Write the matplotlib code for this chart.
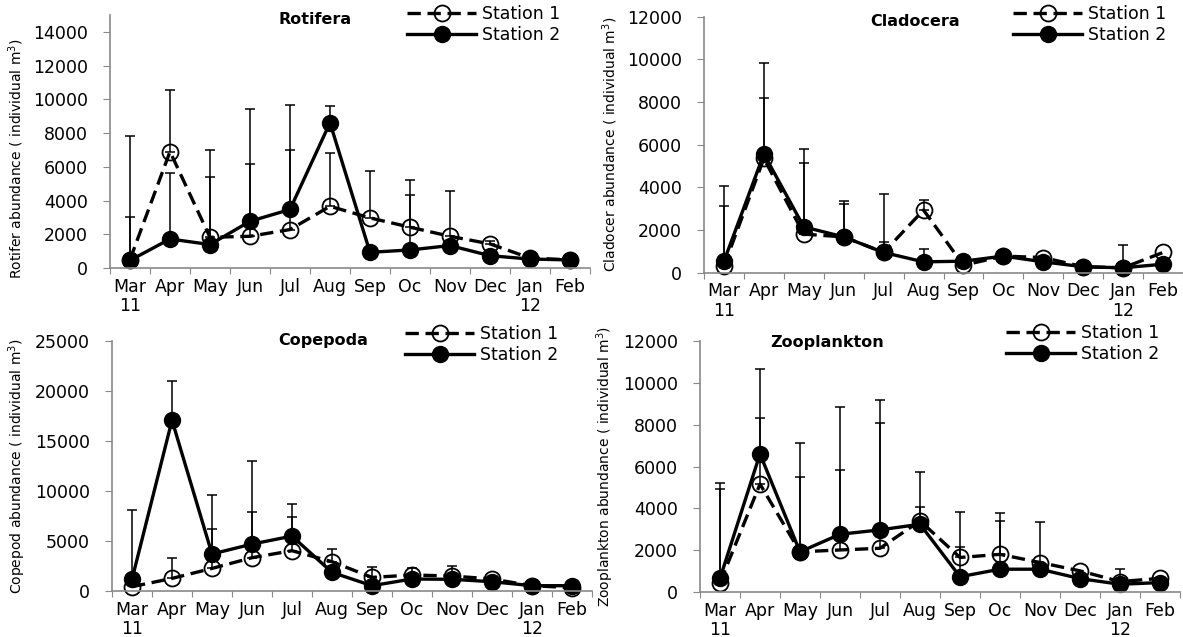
import numpy as np
import matplotlib.pyplot as plt

months = ['Mar\n11', 'Apr', 'May', 'Jun', 'Jul', 'Aug', 'Sep', 'Oc', 'Nov', 'Dec', 'Jan\n12', 'Feb']

# Rotifera
rot_st1 = [500, 6900, 1820, 1880, 2280, 3660, 2970, 2420, 1880, 1430, 590, 480]
rot_st1_sd = [2500, 3640, 3570, 4260, 4730, 3150, 2810, 2770, 2670, 190, 0, 0]
rot_st2 = [450, 1720, 1390, 2770, 3470, 8610, 930, 1070, 1330, 730, 530, 480]
rot_st2_sd = [7350, 3900, 5580, 6660, 6210, 970, 0, 3230, 0, 0, 0, 0]

# Cladocera
cla_st1 = [300, 5350, 1800, 1670, 940, 2930, 340, 770, 700, 270, 220, 940]
cla_st1_sd = [2810, 2850, 3320, 1540, 470, 470, 0, 0, 0, 0, 0, 0]
cla_st2 = [530, 5560, 2140, 1670, 940, 500, 530, 770, 500, 270, 220, 390]
cla_st2_sd = [3520, 4280, 3650, 1690, 2740, 580, 0, 0, 0, 0, 1090, 0]

# Copepoda
cop_st1 = [430, 1260, 2260, 3330, 4030, 2930, 1360, 1600, 1500, 1200, 530, 330]
cop_st1_sd = [0, 2070, 3900, 4590, 3330, 1300, 1070, 660, 1000, 0, 0, 0]
cop_st2 = [1170, 17080, 3700, 4690, 5490, 1860, 530, 1200, 1170, 930, 530, 530]
cop_st2_sd = [6920, 3920, 5950, 8290, 3200, 0, 0, 0, 0, 0, 0, 0]

# Zooplankton
zoo_st1 = [450, 5160, 1920, 2010, 2090, 3400, 1650, 1800, 1410, 1010, 500, 650]
zoo_st1_sd = [4470, 3150, 3560, 3840, 5980, 640, 2180, 1970, 1960, 0, 590, 0]
zoo_st2 = [650, 6600, 1920, 2760, 2970, 3240, 730, 1090, 1090, 640, 370, 450]
zoo_st2_sd = [4560, 4070, 5190, 6070, 6230, 2480, 1430, 2310, 0, 0, 0, 0]

W, H = 1183, 637
plt.rcParams['font.family'] = ['DejaVu Sans']
fig = plt.figure(figsize=(W / 100, H / 100), dpi=100)

GREY = '#898989'


def draw_panel(rect, title, ylab, s1, s1_sd, s2, s2_sd, ymax, ytop, ystep, title_xy, leg_xy,
               ylab_y=0.5):
    ax = fig.add_axes(rect)
    x = np.arange(len(months))
    s1, s2 = np.array(s1, float), np.array(s2, float)
    s1_sd, s2_sd = np.array(s1_sd, float), np.array(s2_sd, float)

    # upper-only error bars, skip the ones that are not visible
    for vals, sd in [(s1, s1_sd), (s2, s2_sd)]:
        m = sd > 0
        ax.errorbar(x[m], vals[m], yerr=[np.zeros(m.sum()), sd[m]], fmt='none',
                    ecolor='black', elinewidth=1.1, capsize=3.6, capthick=1.1, clip_on=False)

    ax.plot(x, s1, linestyle=(0, (4, 2)), color='black', lw=2.4, marker='o', ms=11.5,
            mfc='none', mec='black', mew=1.3, label='Station 1', clip_on=False)
    ax.plot(x, s2, linestyle='-', color='black', lw=2.4, marker='o', ms=11.5,
            mfc='black', mec='black', label='Station 2', clip_on=False)

    ax.set_xlim(-0.5, len(months) - 0.5)
    ax.set_ylim(0, ymax)
    ax.set_yticks(np.arange(0, ytop + 1, ystep))
    ax.set_xticks(np.arange(-0.5, len(months), 1))
    ax.set_xticklabels([])
    ax.set_xticks(x, minor=True)
    ax.set_xticklabels(months, minor=True, linespacing=1.1)
    ax.tick_params(axis='x', which='major', direction='out', length=4, color=GREY)
    ax.tick_params(axis='x', which='minor', length=0, pad=7, labelsize=12.5)
    ax.tick_params(axis='y', direction='out', length=5, pad=11, color=GREY, labelsize=12.5)

    for side in ['top', 'right']:
        ax.spines[side].set_visible(False)
    for side in ['left', 'bottom']:
        ax.spines[side].set_color(GREY)
        ax.spines[side].set_linewidth(1.2)

    ax.set_ylabel(ylab + ' abundance ( individual m$^{3}$)', fontsize=10,
                  family=['Liberation Sans Narrow', 'DejaVu Sans'])
    ax.yaxis.set_label_coords(-0.175, ylab_y)

    fig.text(title_xy[0] / W, 1 - title_xy[1] / H, title, ha='center', va='center',
             fontsize=11.5, fontweight='bold')

    ax.legend(loc='upper left', bbox_to_anchor=(leg_xy[0] / W, 1 - leg_xy[1] / H),
              bbox_transform=fig.transFigure, frameon=False, fontsize=12.5,
              borderpad=0, borderaxespad=0, handlelength=4.0, handletextpad=0.3,
              labelspacing=0.15)
    return ax


draw_panel([110 / W, 1 - 268 / H, 480 / W, 253 / H], 'Rotifera', 'Rotifer',
           rot_st1, rot_st1_sd, rot_st2, rot_st2_sd, 15000, 14000, 2000, (315, 20), (407, 5),
           ylab_y=0.43)
draw_panel([704 / W, 1 - 272.5 / H, 479 / W, 255.8 / H], 'Cladocera', 'Cladocer',
           cla_st1, cla_st1_sd, cla_st2, cla_st2_sd, 12000, 12000, 2000, (915, 21), (1013, 5))
draw_panel([112 / W, 1 - 591 / H, 480 / W, 250 / H], 'Copepoda', 'Copepod',
           cop_st1, cop_st1_sd, cop_st2, cop_st2_sd, 25000, 25000, 5000, (323, 341), (405, 325))
draw_panel([700 / W, 1 - 592 / H, 480 / W, 251 / H], 'Zooplankton', 'Zooplankton',
           zoo_st1, zoo_st1_sd, zoo_st2, zoo_st2_sd, 12000, 12000, 2000, (827, 342), (1006, 324))

fig.savefig('out.png', dpi=100)
